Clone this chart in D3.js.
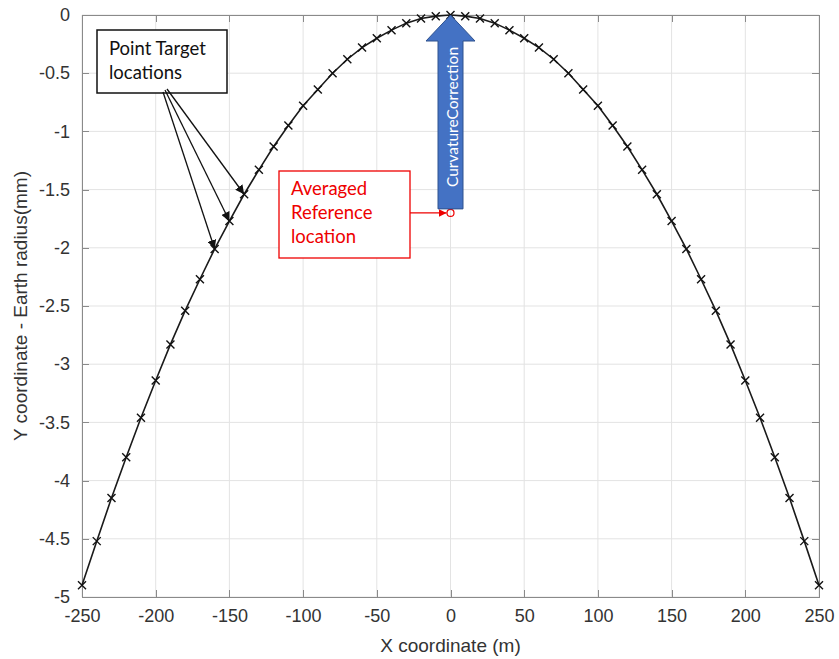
<!DOCTYPE html>
<html lang="en">
<head>
<meta charset="UTF-8">
<title>Curvature correction</title>
<script src="https://cdn.jsdelivr.net/npm/d3@7"></script>
<style>
body { margin: 0; background: #fff; }
svg { font-family: "Liberation Sans", Arial, Helvetica, sans-serif; }
.grid line { stroke: #e3e3e3; stroke-width: 1; }
.axis path, .axis line { stroke: #8a8a8a; shape-rendering: crispEdges; }
.axis text { font-size: 18px; fill: #333; }
.note { font-family: Lato, "Open Sans", sans-serif; }
</style>
</head>
<body>
<script>
// x positions of the point targets (m)
var xVals = [-250,-240,-230,-220,-210,-200,-190,-180,-170,-160,-150,-140,-130,-120,-110,-100,-90,-80,-70,-60,-50,-40,-30,-20,-10,0,
             10,20,30,40,50,60,70,80,90,100,110,120,130,140,150,160,170,180,190,200,210,220,230,240,250];
// y coordinate minus earth radius (mm)
var yVals = [-4.90,-4.52,-4.15,-3.80,-3.46,-3.14,-2.83,-2.54,-2.27,-2.01,-1.77,-1.54,-1.33,-1.13,-0.95,-0.78,-0.64,-0.50,-0.38,-0.28,-0.20,-0.13,-0.07,-0.03,-0.01,0,
             -0.01,-0.03,-0.07,-0.13,-0.20,-0.28,-0.38,-0.50,-0.64,-0.78,-0.95,-1.13,-1.33,-1.54,-1.77,-2.01,-2.27,-2.54,-2.83,-3.14,-3.46,-3.80,-4.15,-4.52,-4.90];
var xTicks = [-250,-200,-150,-100,-50,0,50,100,150,200,250];
var yTicks = [0,-0.5,-1,-1.5,-2,-2.5,-3,-3.5,-4,-4.5,-5];
var refPoint = [0, -1.70];
var pointedX = [-140, -150, -160];

var W = 839, H = 659;
var m = {left: 82, top: 15, right: 20, bottom: 62};
var iw = W - m.left - m.right, ih = H - m.top - m.bottom;

var svg = d3.select('body').append('svg').attr('width', W).attr('height', H);
var defs = svg.append('defs');
defs.append('marker').attr('id', 'hk').attr('viewBox', '0 0 10 10').attr('refX', 10).attr('refY', 5)
    .attr('markerWidth', 9).attr('markerHeight', 9).attr('markerUnits', 'userSpaceOnUse').attr('orient', 'auto')
    .append('path').attr('d', 'M0,0L10,5L0,10z').attr('fill', '#111');
defs.append('marker').attr('id', 'hr').attr('viewBox', '0 0 10 10').attr('refX', 10).attr('refY', 5)
    .attr('markerWidth', 8).attr('markerHeight', 8).attr('markerUnits', 'userSpaceOnUse').attr('orient', 'auto')
    .append('path').attr('d', 'M0,0L10,5L0,10z').attr('fill', '#e00');

var g = svg.append('g').attr('transform', 'translate(' + m.left + ',' + m.top + ')');

var x = d3.scaleLinear().domain([-250, 250]).range([0, iw]);
var y = d3.scaleLinear().domain([-5, 0]).range([ih, 0]);
var plain = d => String(d);

// grid
g.append('g').attr('class', 'grid').selectAll('line').data(xTicks).join('line')
    .attr('x1', d => x(d)).attr('x2', d => x(d)).attr('y1', 0).attr('y2', ih);
g.append('g').attr('class', 'grid').selectAll('line').data(yTicks).join('line')
    .attr('y1', d => y(d)).attr('y2', d => y(d)).attr('x1', 0).attr('x2', iw);

// axes with inward ticks on all four sides
g.append('g').attr('class', 'axis').attr('transform', 'translate(0,' + ih + ')')
    .call(d3.axisBottom(x).tickValues(xTicks).tickSizeInner(-7).tickSizeOuter(0).tickPadding(12).tickFormat(plain));
g.append('g').attr('class', 'axis')
    .call(d3.axisLeft(y).tickValues(yTicks).tickSizeInner(-7).tickSizeOuter(0).tickPadding(12).tickFormat(plain));
g.append('g').attr('class', 'axis')
    .call(d3.axisTop(x).tickValues(xTicks).tickSizeInner(-7).tickSizeOuter(0).tickFormat(''));
g.append('g').attr('class', 'axis').attr('transform', 'translate(' + iw + ',0)')
    .call(d3.axisRight(y).tickValues(yTicks).tickSizeInner(-7).tickSizeOuter(0).tickFormat(''));

// axis titles
svg.append('text').attr('x', m.left + iw / 2).attr('y', 652).attr('text-anchor', 'middle')
    .attr('font-size', 19).attr('fill', '#333').text('X coordinate (m)');
svg.append('text').attr('transform', 'translate(27,' + (m.top + ih / 2) + ') rotate(-90)')
    .attr('text-anchor', 'middle').attr('font-size', 19).attr('fill', '#333')
    .text('Y coordinate - Earth radius(mm)');

// curve + x markers
var pts = xVals.map((d, i) => [d, yVals[i]]);
g.append('path').datum(pts).attr('fill', 'none').attr('stroke', '#1a1a1a').attr('stroke-width', 1.6)
    .attr('d', d3.line().x(d => x(d[0])).y(d => y(d[1])));
g.append('g').selectAll('path').data(pts).join('path')
    .attr('transform', d => 'translate(' + x(d[0]) + ',' + y(d[1]) + ')')
    .attr('d', 'M-4,-4L4,4M-4,4L4,-4').attr('stroke', '#111').attr('stroke-width', 1.4);

// point target callout
var note = svg.append('g').attr('class', 'note');
note.append('rect').attr('x', 97).attr('y', 30).attr('width', 130).attr('height', 63)
    .attr('fill', '#fff').attr('stroke', '#111').attr('stroke-width', 1.5);
note.append('text').attr('x', 109).attr('y', 55).attr('font-size', 18.5).attr('fill', '#111').text('Point Target');
note.append('text').attr('x', 109).attr('y', 79).attr('font-size', 18.5).attr('fill', '#111').text('locations');
var starts = [[167, 89], [165, 90], [163, 92]];
pointedX.forEach(function(px, i) {
    var k = xVals.indexOf(px);
    note.append('line').attr('x1', starts[i][0]).attr('y1', starts[i][1])
        .attr('x2', m.left + x(px)).attr('y2', m.top + y(yVals[k]))
        .attr('stroke', '#111').attr('stroke-width', 1.3).attr('marker-end', 'url(#hk)');
});

// averaged reference callout
var cx = m.left + x(refPoint[0]), cy = m.top + y(refPoint[1]);
note.append('rect').attr('x', 279).attr('y', 171).attr('width', 131).attr('height', 87)
    .attr('fill', '#fff').attr('stroke', '#e00').attr('stroke-width', 1.3);
['Averaged', 'Reference', 'location'].forEach(function(t, i) {
    note.append('text').attr('x', 291).attr('y', 195 + i * 24).attr('font-size', 18.5).attr('fill', '#e00').text(t);
});
note.append('line').attr('x1', 410).attr('y1', cy).attr('x2', cx - 4).attr('y2', cy)
    .attr('stroke', '#e00').attr('stroke-width', 1.2).attr('marker-end', 'url(#hr)');

// blue block arrow
var top0 = m.top + y(0), bot = cy - 4;
var sw = 12.5, hw = 24.5, hh = 26;
note.append('path')
    .attr('d', 'M' + (cx - sw) + ',' + bot + 'L' + (cx - sw) + ',' + (top0 + hh) + 'L' + (cx - hw) + ',' + (top0 + hh) +
        'L' + cx + ',' + top0 + 'L' + (cx + hw) + ',' + (top0 + hh) + 'L' + (cx + sw) + ',' + (top0 + hh) +
        'L' + (cx + sw) + ',' + bot + 'Z')
    .attr('fill', '#4472c4').attr('stroke', '#2f528f').attr('stroke-width', 1);
note.append('text').attr('transform', 'translate(' + (cx + 1) + ',' + 117 + ') rotate(-90)')
    .attr('text-anchor', 'middle').attr('dominant-baseline', 'central')
    .attr('font-size', 15.5).attr('fill', '#fff').text('CurvatureCorrection');

g.append('circle').attr('cx', x(refPoint[0])).attr('cy', y(refPoint[1])).attr('r', 3.5)
    .attr('fill', 'none').attr('stroke', '#e00').attr('stroke-width', 1.2);
</script>
</body>
</html>
